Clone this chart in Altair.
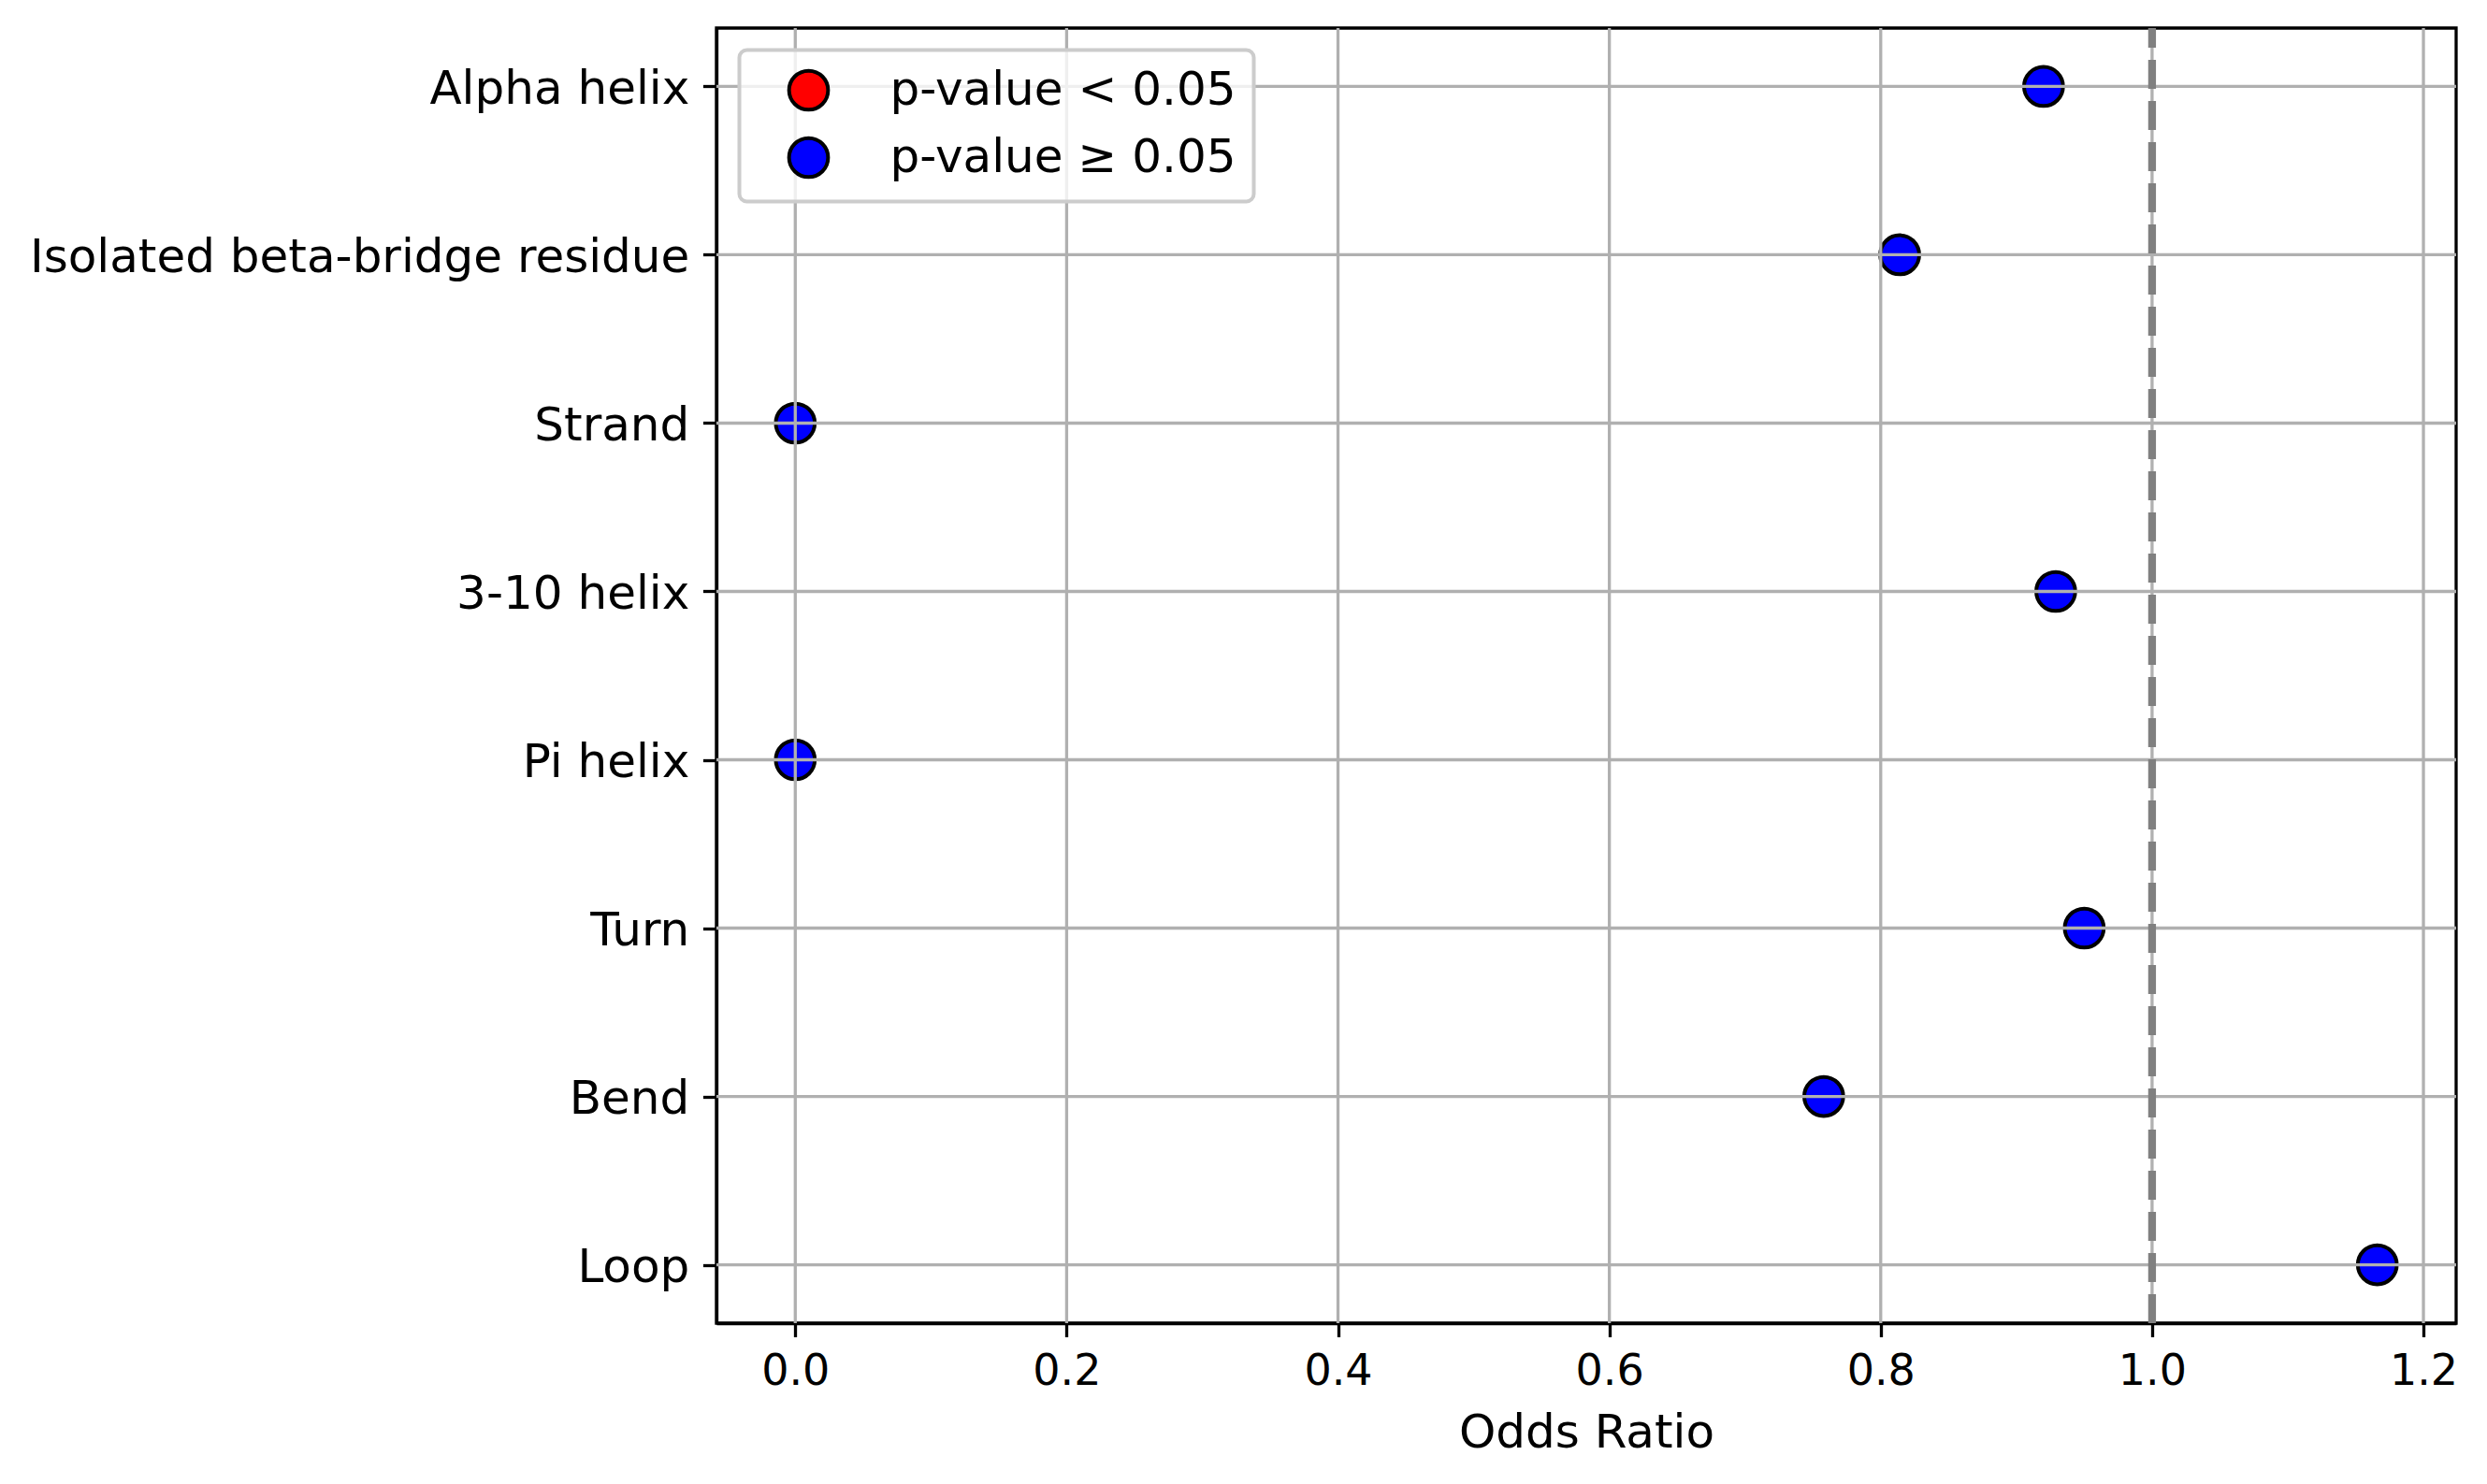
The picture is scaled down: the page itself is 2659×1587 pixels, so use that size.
import altair as alt
import pandas as pd

categories = ["Alpha helix", "Isolated beta-bridge residue", "Strand", "3-10 helix",
              "Pi helix", "Turn", "Bend", "Loop"]
odds_ratios = [0.920, 0.814, 0.0, 0.929, 0.0, 0.950, 0.758, 1.166]
p_groups = ["p-value ≥ 0.05"] * 8
legend_labels = ["p-value < 0.05", "p-value ≥ 0.05"]
legend_colors = ["red", "blue"]
x_ticks = [0.0, 0.2, 0.4, 0.6, 0.8, 1.0, 1.2]
reference_line = [1.0]

df = pd.DataFrame({"category": categories, "odds": odds_ratios, "group": p_groups})
ref = pd.DataFrame({"x": reference_line})
xgrid = pd.DataFrame({"t": x_ticks})
ygrid = pd.DataFrame({"category": categories})

FONT = "DejaVu Sans"
W, H = 1860, 1385
GRID = "#b0b0b0"

x_scale = alt.Scale(domain=[-0.0581, 1.2241], nice=False, zero=False)
y_scale = alt.Scale(type="point", domain=categories, padding=0.347)

points = alt.Chart(df).mark_point(
    filled=True, shape="circle", size=1740, stroke="black", strokeWidth=4, opacity=1
).encode(
    x=alt.X("odds:Q", scale=x_scale,
            axis=alt.Axis(values=x_ticks, format=".1f", title="Odds Ratio",
                          labelFontSize=46, labelFlush=False, titlePadding=18)),
    y=alt.Y("category:N", scale=y_scale, sort=categories,
            axis=alt.Axis(title=None, labelLimit=1000, labelOverlap=False, labelOffset=3)),
    color=alt.Color("group:N",
                    scale=alt.Scale(domain=legend_labels, range=legend_colors),
                    legend=alt.Legend(title=None, orient="none", legendX=24.5, legendY=23.5,
                                      symbolType="circle", symbolSize=1740,
                                      symbolStrokeColor="black", symbolStrokeWidth=4,
                                      symbolOpacity=1, labelFontSize=50, labelFont=FONT,
                                      labelColor="black", labelLimit=1000,
                                      padding=18, symbolOffset=31,
                                      labelOffset=62, rowPadding=14,
                                      fillColor="rgba(255,255,255,0.8)",
                                      strokeColor="#cccccc", cornerRadius=8, zindex=3)),
)

vgrid = alt.Chart(xgrid).mark_rule(color=GRID, strokeWidth=3.3).encode(
    x=alt.X("t:Q", scale=x_scale),
    y=alt.value(0), y2=alt.value(H),
)

hgrid = alt.Chart(ygrid).mark_rule(color=GRID, strokeWidth=3.3).encode(
    y=alt.Y("category:N", scale=y_scale, sort=categories),
    x=alt.value(0), x2=alt.value(W),
)

rule = alt.Chart(ref).mark_rule(
    color="#808080", strokeWidth=8.3, strokeDash=[31, 13]
).encode(
    x=alt.X("x:Q", scale=x_scale),
    y=alt.value(H), y2=alt.value(0),
)

chart = alt.layer(points, vgrid, hgrid, rule).properties(
    width=W, height=H,
    padding={"left": 758, "top": 22, "right": 20, "bottom": 160},
    autosize=alt.AutoSizeParams(type="none"),
).configure_axis(
    domainColor="black", domainWidth=3.3, tickColor="black", tickWidth=3.3,
    tickSize=14.6, labelPadding=14.6, labelFont=FONT, labelColor="black",
    labelFontSize=50, titleFont=FONT, titleColor="black", titleFontSize=50,
    titleFontWeight="normal", grid=False,
).configure_legend(
    strokeWidth=4,
).configure_view(
    stroke="black", strokeWidth=3.3,
)

chart.save("out.html", embed_options={"renderer": "svg", "actions": False})
